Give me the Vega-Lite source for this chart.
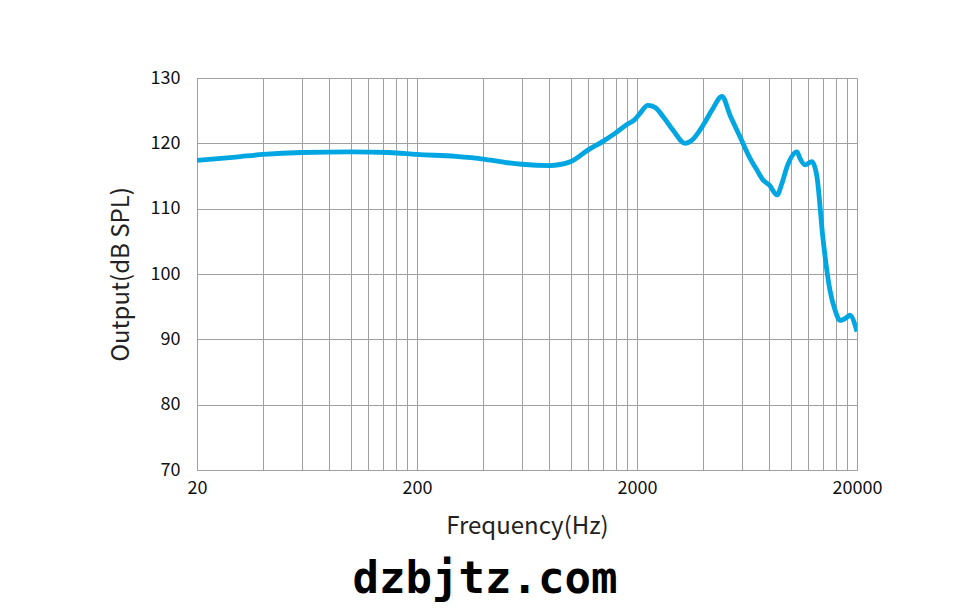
{
  "$schema": "https://vega.github.io/schema/vega-lite/v6.json",
  "width": 660,
  "height": 392,
  "autosize": {"type": "none"},
  "padding": {"left": 197, "top": 78, "right": 119, "bottom": 143},
  "background": "white",
  "config": {"view": {"stroke": null}, "font": "Noto Sans CJK SC"},
  "title": {
    "text": "dzbjtz.com",
    "orient": "bottom",
    "anchor": "middle",
    "font": "DejaVu Sans Mono",
    "fontWeight": "bold",
    "fontSize": 44,
    "color": "#000000",
    "offset": 20,
    "dx": -42
  },
  "data": {
    "values": [
      {"f": 20, "db": 117.4},
      {"f": 30, "db": 117.9},
      {"f": 40, "db": 118.3},
      {"f": 60, "db": 118.6},
      {"f": 100, "db": 118.7},
      {"f": 150, "db": 118.6},
      {"f": 200, "db": 118.3},
      {"f": 300, "db": 118.0},
      {"f": 400, "db": 117.6},
      {"f": 500, "db": 117.1},
      {"f": 600, "db": 116.8},
      {"f": 800, "db": 116.6},
      {"f": 1000, "db": 117.2},
      {"f": 1200, "db": 119.0},
      {"f": 1400, "db": 120.3},
      {"f": 1600, "db": 121.6},
      {"f": 1800, "db": 122.9},
      {"f": 1950, "db": 123.6},
      {"f": 2064, "db": 124.6},
      {"f": 2244, "db": 125.8},
      {"f": 2415, "db": 125.5},
      {"f": 2626, "db": 124.1},
      {"f": 2917, "db": 122.0},
      {"f": 3306, "db": 120.0},
      {"f": 3557, "db": 120.5},
      {"f": 4000, "db": 122.8},
      {"f": 4385, "db": 125.1},
      {"f": 4868, "db": 127.2},
      {"f": 5295, "db": 124.3},
      {"f": 5880, "db": 121.0},
      {"f": 6530, "db": 117.7},
      {"f": 7020, "db": 115.9},
      {"f": 7480, "db": 114.4},
      {"f": 8000, "db": 113.6},
      {"f": 8658, "db": 112.1},
      {"f": 9120, "db": 113.9},
      {"f": 9612, "db": 116.4},
      {"f": 10672, "db": 118.7},
      {"f": 11010, "db": 117.7},
      {"f": 11600, "db": 116.7},
      {"f": 12480, "db": 117.2},
      {"f": 13150, "db": 114.9},
      {"f": 14000, "db": 105.5},
      {"f": 15070, "db": 97.5},
      {"f": 15890, "db": 94.5},
      {"f": 16750, "db": 92.9},
      {"f": 18030, "db": 93.4},
      {"f": 18550, "db": 93.7},
      {"f": 20000, "db": 91.2}
    ]
  },
  "mark": {"type": "line", "interpolate": "monotone", "color": "#00a6e2", "strokeWidth": 4.8, "clip": true},
  "encoding": {
    "x": {
      "field": "f",
      "type": "quantitative",
      "scale": {"type": "log", "domain": [20, 20000], "nice": false},
      "axis": {
        "title": "Frequency(Hz)",
        "values": [20, 40, 60, 80, 100, 120, 140, 160, 180, 200, 400, 600, 800, 1000, 1200, 1400, 1600, 1800, 2000, 4000, 6000, 8000, 10000, 12000, 14000, 16000, 18000, 20000],
        "format": "d",
        "labelExpr": "(datum.value == 20 || datum.value == 200 || datum.value == 2000 || datum.value == 20000) ? datum.label : ''",
        "ticks": false,
        "labelPadding": 9,
        "labelFontSize": 18,
        "labelColor": "#111111",
        "labelFlush": false,
        "grid": true,
        "gridColor": "#a0a0a0",
        "gridWidth": 1,
        "domainColor": "#a0a0a0",
        "titleFontSize": 24,
        "titleFontWeight": "normal",
        "titleColor": "#222222",
        "titlePadding": 17
      }
    },
    "y": {
      "field": "db",
      "type": "quantitative",
      "scale": {"domain": [70, 130], "nice": false, "zero": false},
      "axis": {
        "title": "Output(dB SPL)",
        "values": [70, 80, 90, 100, 110, 120, 130],
        "ticks": false,
        "labelPadding": 17,
        "labelFontSize": 18,
        "labelColor": "#111111",
        "grid": true,
        "gridColor": "#a0a0a0",
        "gridWidth": 1,
        "domainColor": "#a0a0a0",
        "titleFontSize": 24,
        "titleFontWeight": "normal",
        "titleColor": "#222222",
        "titlePadding": 17
      }
    }
  }
}
